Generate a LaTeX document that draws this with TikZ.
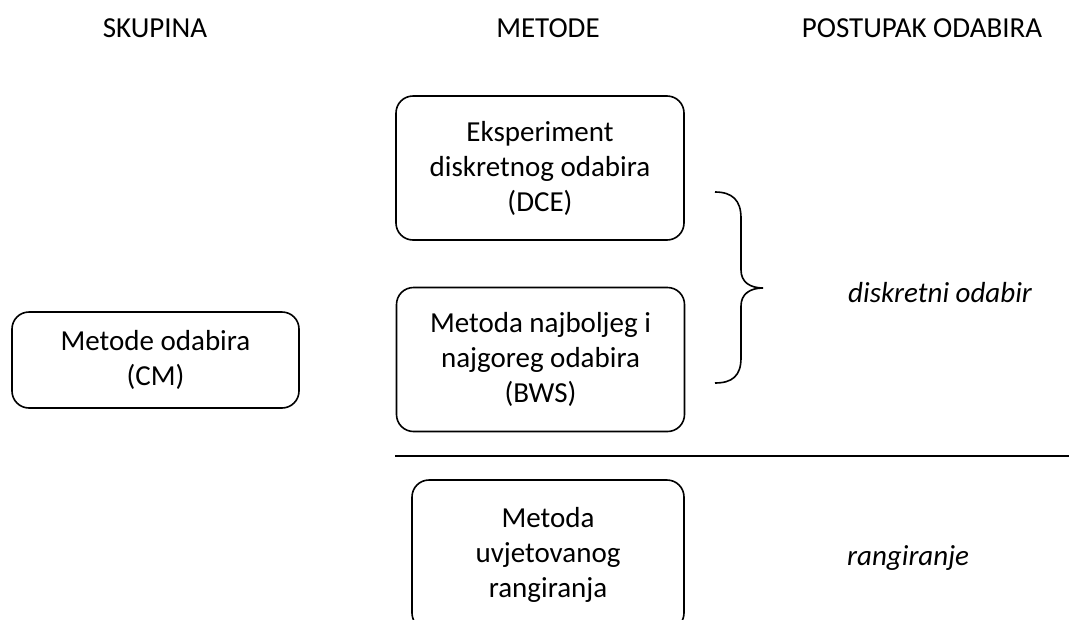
\documentclass[tikz,border=0pt]{standalone}
\usepackage{fontspec}
\setmainfont{Carlito}
\begin{document}
\begin{tikzpicture}[x=1pt,y=-1pt,
  box/.style={draw, line width=1.6pt, rounded corners=17pt, align=center, inner sep=0pt,
    font=\fontsize{29}{35}\selectfont},
  hdr/.style={anchor=base, inner sep=0pt, font=\fontsize{29}{35}\selectfont},
  lbl/.style={anchor=base west, inner sep=0pt, font=\fontsize{29}{35}\selectfont\itshape}]
\useasboundingbox (0,0) rectangle (1069,619);
\clip (0,0) rectangle (1069,619);
\node[hdr] (h1) at (155,37) {SKUPINA};
\node[hdr] (h2) at (548,37) {METODE};
\node[hdr] (h3) at (922,37) {POSTUPAK ODABIRA};

\node[box, minimum width=287pt, minimum height=96pt] (cm) at (155.5,360) {Metode odabira\\(CM)};
\node[box, minimum width=288pt, minimum height=144pt] (dce) at (540,168) {Eksperiment\\diskretnog odabira\\(DCE)};
\node[box, minimum width=288pt, minimum height=144pt] (bws) at (540.5,359.5) {Metoda najboljeg i\\najgoreg odabira\\(BWS)};
\node[box, minimum width=272pt, minimum height=150pt] (rang) at (548,555) {Metoda\\uvjetovanog\\rangiranja};

\node[lbl] (l1) at (848,302) {diskretni odabir};
\node[lbl] (l2) at (847,565) {rangiranje};

\coordinate (ls) at (395,456);
\coordinate (le) at (1069,456);
\draw[line width=1.6pt] (ls) -- (le);

\draw[line width=1.6pt]
  (715,192) .. controls (732,192) and (741,200) .. (741,218)
  -- (741,270) .. controls (741,282) and (750,288) .. (763,288)
  .. controls (750,288) and (741,294) .. (741,306)
  -- (741,358) .. controls (741,376) and (732,383) .. (715,383);
\end{tikzpicture}
\end{document}
